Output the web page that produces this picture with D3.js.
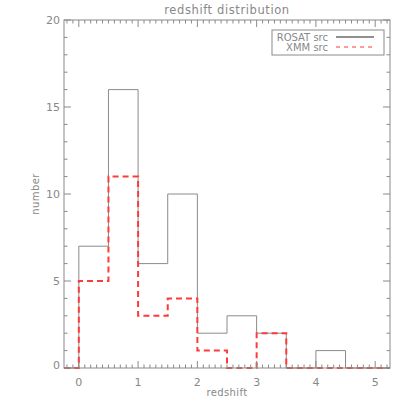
<!DOCTYPE html>
<html>
<head>
<meta charset="utf-8">
<script src="https://cdn.jsdelivr.net/npm/d3@7"></script>
<style>
  body { margin: 0; background: #fff; }
  text { font-family: "DejaVu Sans", sans-serif; fill: #888; }
</style>
</head>
<body>
<div id="chart"></div>
<script>
// bin edges (redshift) and counts per bin
var binEdges = [0, 0.5, 1, 1.5, 2, 2.5, 3, 3.5, 4, 4.5, 5];
var rosatCounts = [7, 16, 6, 10, 2, 3, 2, 0, 1, 0];
var xmmCounts = [5, 11, 3, 4, 1, 0, 2, 0, 0, 0];
var xTicks = [0, 1, 2, 3, 4, 5];
var yTicks = [0, 5, 10, 15, 20];
var legendLabels = ["ROSAT src", "XMM src"];

var W = 409, H = 409;
/* note: "top" is taken by window.top, so use px* names */
var pxL = 64, pxR = 390, pxT = 20, pxB = 368;

var svg = d3.select("#chart").append("svg")
    .attr("width", W)
    .attr("height", H);

var x = d3.scaleLinear().domain([-0.25, 5.25]).range([pxL, pxR]);
var y = d3.scaleLinear().domain([0, 20]).range([pxB, pxT]);

/* turn counts into a step outline running across the whole x range */
var steps = function(counts) {
    var pts = [[x.domain()[0], 0], [binEdges[0], 0]];
    counts.forEach(function(c, i) {
        pts.push([binEdges[i], c]);
        pts.push([binEdges[i + 1], c]);
    });
    pts.push([binEdges[binEdges.length - 1], 0]);
    pts.push([x.domain()[1], 0]);
    return pts;
};

var line = d3.line()
    .x(function(d) { return x(d[0]); })
    .y(function(d) { return y(d[1]); });

svg.append("path")
    .datum(steps(rosatCounts))
    .attr("d", line)
    .attr("fill", "none")
    .attr("stroke", "#8a8a8a")
    .attr("stroke-width", 1);

svg.append("path")
    .datum(steps(xmmCounts))
    .attr("d", line)
    .attr("fill", "none")
    .attr("stroke", "#ff3a3a")
    .attr("stroke-width", 2)
    .attr("stroke-dasharray", "6,4");

// frame with inward ticks
var axisColor = "#8a8a8a";
var fr = svg.append("g").attr("stroke", axisColor).attr("fill", "none");
fr.append("rect")
    .attr("x", pxL).attr("y", pxT)
    .attr("width", pxR - pxL).attr("height", pxB - pxT)
    .attr("stroke-width", 1);

var xMinor = d3.range(-2, 53).map(function(i) { return i / 10; });
xMinor.forEach(function(v) {
    var major = Math.abs(v - Math.round(v)) < 1e-6;
    var len = major ? 7 : 3.5;
    fr.append("line").attr("x1", x(v)).attr("x2", x(v))
        .attr("y1", pxB).attr("y2", pxB - len);
    fr.append("line").attr("x1", x(v)).attr("x2", x(v))
        .attr("y1", pxT).attr("y2", pxT + len);
});

d3.range(0, 21).forEach(function(v) {
    var len = (v % 5 === 0) ? 7 : 3.5;
    fr.append("line").attr("y1", y(v)).attr("y2", y(v))
        .attr("x1", pxL).attr("x2", pxL + len);
    fr.append("line").attr("y1", y(v)).attr("y2", y(v))
        .attr("x1", pxR).attr("x2", pxR - len);
});

svg.selectAll(".xlab")
    .data(xTicks)
    .enter().append("text")
    .attr("x", function(d) { return x(d); })
    .attr("y", pxB + 18)
    .attr("text-anchor", "middle")
    .attr("font-size", "11px")
    .text(function(d) { return d; });

svg.selectAll(".ylab")
    .data(yTicks)
    .enter().append("text")
    .attr("x", pxL - 4)
    .attr("y", function(d) { return d === 0 ? y(d) + 1 : y(d) + 4; })
    .attr("text-anchor", "end")
    .attr("font-size", "11px")
    .text(function(d) { return d; });

svg.append("text")
    .attr("x", (pxL + pxR) / 2)
    .attr("y", 14)
    .attr("text-anchor", "middle")
    .attr("font-size", "11.5px")
    .attr("letter-spacing", "0.6px")
    .text("redshift distribution");

svg.append("text")
    .attr("x", (pxL + pxR) / 2)
    .attr("y", 396)
    .attr("text-anchor", "middle")
    .attr("font-size", "10px")
    .attr("letter-spacing", "0.4px")
    .text("redshift");

svg.append("text")
    .attr("transform", "translate(39," + ((pxT + pxB) / 2) + ") rotate(-90)")
    .attr("text-anchor", "middle")
    .attr("font-size", "10px")
    .attr("letter-spacing", "0.4px")
    .text("number");

// legend
var lg = svg.append("g");
lg.append("rect")
    .attr("x", 272).attr("y", 30)
    .attr("width", 112).attr("height", 25)
    .attr("fill", "#fff")
    .attr("stroke", axisColor);

lg.selectAll("text")
    .data(legendLabels)
    .enter().append("text")
    .attr("x", 328)
    .attr("y", function(d, i) { return 41 + i * 10; })
    .attr("text-anchor", "end")
    .attr("font-size", "10px")
    .text(function(d) { return d; });

lg.append("line")
    .attr("x1", 336).attr("x2", 374).attr("y1", 37).attr("y2", 37)
    .attr("stroke", "#222").attr("stroke-width", 1.2);
lg.append("line")
    .attr("x1", 336).attr("x2", 374).attr("y1", 47).attr("y2", 47)
    .attr("stroke", "#ff3a3a").attr("stroke-width", 1.2)
    .attr("stroke-dasharray", "4,4");
</script>
</body>
</html>
